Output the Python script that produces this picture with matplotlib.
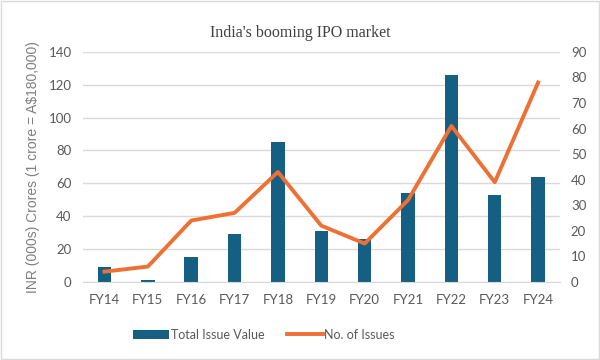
import matplotlib
matplotlib.use("Agg")
from matplotlib import pyplot as plt
import numpy as np

years = ["FY14", "FY15", "FY16", "FY17", "FY18", "FY19", "FY20", "FY21", "FY22", "FY23", "FY24"]
issue_value = [9, 1, 15, 29, 85, 31, 26, 54, 126, 53, 64]
num_issues = [4, 6, 24, 27, 43, 22, 15, 32, 61, 39, 78]

bar_col = "#155F82"
line_col = "#EE7034"
txt_col = "#595959"

fig = plt.figure(figsize=(6, 3.6), dpi=100)
ax = fig.add_axes([0.138, 0.217, 0.795, 0.639])
ax2 = ax.twinx()

x = np.arange(len(years))
ax.bar(x, issue_value, width=0.31, color=bar_col, label="Total Issue Value", zorder=2)
ax2.plot(x, num_issues, color=line_col, lw=2.8, label="No. of Issues", zorder=3)

ax.set_xlim(-0.5, len(years) - 0.5)
ax.set_ylim(0, 140)
ax.set_yticks(range(0, 141, 20))
ax2.set_ylim(0, 90)
ax2.set_yticks(range(0, 91, 10))
ax.set_xticks(x)
ax.set_xticklabels(years)

ax.grid(axis="y", color="#D9D9D9", lw=1, zorder=0)
ax.set_axisbelow(True)
for a in (ax, ax2):
    for s in a.spines.values():
        s.set_visible(False)
    a.tick_params(length=0, labelsize=9.5, labelcolor=txt_col, pad=8)
    for lab in a.get_xticklabels() + a.get_yticklabels():
        lab.set_family("Lato")
ax.spines["bottom"].set_visible(True)
ax.spines["bottom"].set_color("#D9D9D9")
ax.tick_params(axis="x", pad=9)

ax.set_ylabel("INR (000s) Crores (1 crore = A$180,000)", color="#7F7F7F",
              fontsize=10, family="Liberation Sans", labelpad=6)

fig.suptitle("India's booming IPO market", y=0.93, fontsize=11.5,
             family="Liberation Serif", color="#404040")

h1, l1 = ax.get_legend_handles_labels()
h2, l2 = ax2.get_legend_handles_labels()
leg = fig.legend(h1 + h2, l1 + l2, loc="center", bbox_to_anchor=(0.44, 0.07), ncol=2,
                 frameon=False, handlelength=2.9, columnspacing=1.8,
                 handletextpad=0.1, prop={"family": "Lato", "size": 9})
for t in leg.get_texts():
    t.set_color(txt_col)

fig.patches.append(plt.Rectangle((0.002, 0.003), 0.996, 0.994, transform=fig.transFigure,
                                 fill=False, edgecolor="#D9D9D9", lw=1))

fig.savefig("out.png", dpi=100)
